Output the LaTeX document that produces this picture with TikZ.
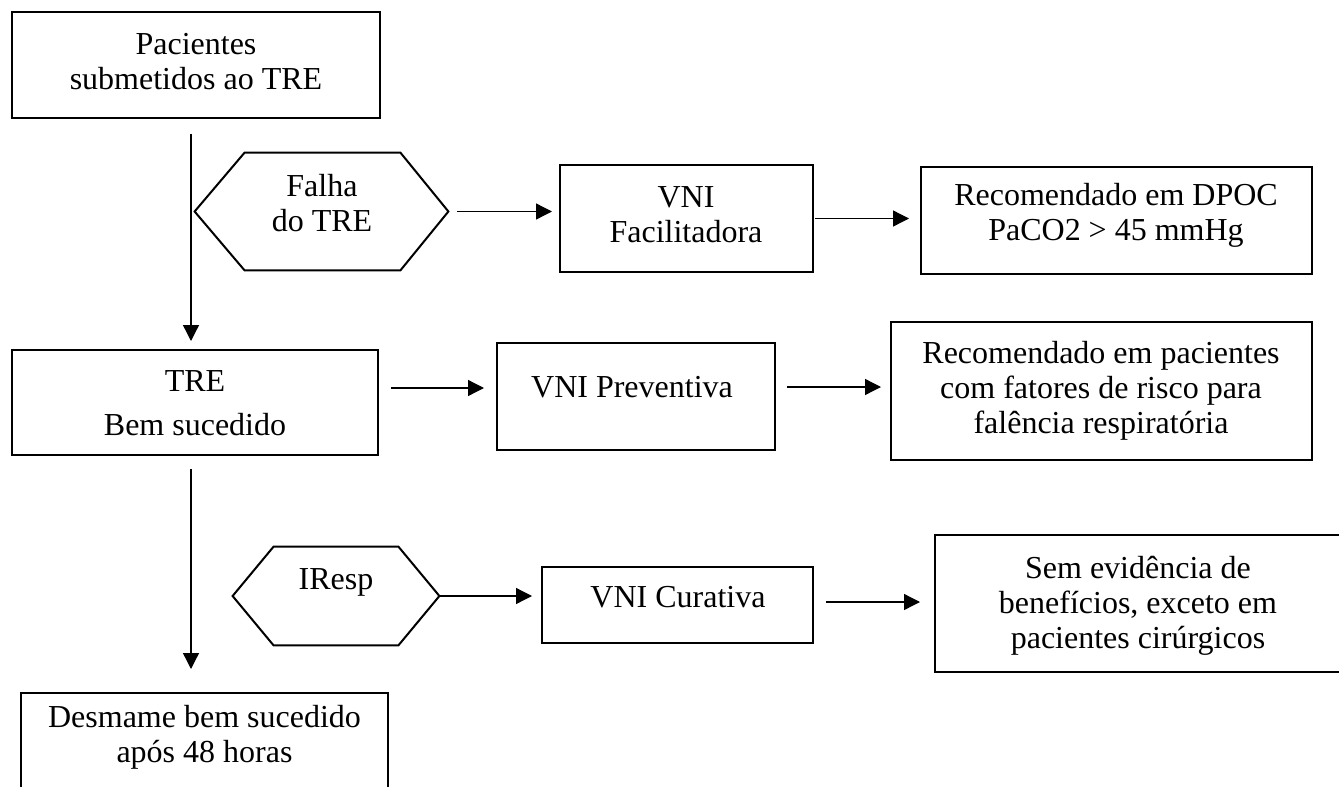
\documentclass[tikz,border=0pt]{standalone}
\usepackage{fontspec}
\setmainfont{Liberation Serif}
\usetikzlibrary{arrows.meta}
\begin{document}
\begin{tikzpicture}[x=0.5pt,y=-0.5pt,
  box/.style={draw=black,line width=1pt,rectangle,inner sep=0pt},
  ghost/.style={draw=none,rectangle,inner sep=0pt},
  hex/.style={draw=black,line width=1pt,line join=miter},
  txt/.style={align=center,inner sep=0pt,font=\fontsize{16pt}{17.5pt}\selectfont},
  wtxt/.style={align=center,inner sep=0pt,font=\fontsize{16pt}{22pt}\selectfont},
  arr/.style={line width=0.65pt,-{Triangle[length=8pt,width=8pt]}}]
\useasboundingbox (0,0) rectangle (1339,787);

% boxes
\node[box,minimum width=184pt,minimum height=53pt] (p1) at (196,65) {};
\node[txt] (t1) at (196,62) {Pacientes\\submetidos ao TRE};

\node[ghost,minimum width=126.5pt,minimum height=58.5pt] (falha) at (321.5,211.5) {};
\draw[hex] (falha.west) -- ([xshift=25pt]falha.north west) -- ([xshift=-24pt]falha.north east)
  -- (falha.east) -- ([xshift=-24pt]falha.south east) -- ([xshift=25pt]falha.south west) -- cycle;
\node[txt] (t2) at (322,203) {Falha\\do TRE};

\node[box,minimum width=126.5pt,minimum height=53.5pt] (vnifac) at (686.5,218.5) {};
\node[txt] (t3) at (686,215) {VNI\\Facilitadora};

\node[box,minimum width=195.5pt,minimum height=53.5pt] (dpoc) at (1116.5,220.5) {};
\node[txt] (t4) at (1116,215) {Recomendado em DPOC\\PaCO2 > 45 mmHg};

\node[box,minimum width=183pt,minimum height=52.5pt] (tre) at (195,402.5) {};
\node[wtxt] (t5) at (195,403) {TRE\\Bem sucedido};

\node[box,minimum width=139pt,minimum height=53.5pt] (vniprev) at (636,396.5) {};
\node[txt] (t6) at (632,387) {VNI Preventiva};

\node[box,minimum width=210.5pt,minimum height=69pt] (recpac) at (1101.5,391) {};
\node[txt] (t7) at (1101,391) {Recomendado em pacientes\\com fatores de risco para\\falência respiratória};

\node[ghost,minimum width=103pt,minimum height=49pt] (iresp) at (336,596) {};
\draw[hex] (iresp.west) -- ([xshift=20.5pt]iresp.north west) -- ([xshift=-20.5pt]iresp.north east)
  -- (iresp.east) -- ([xshift=-20.5pt]iresp.south east) -- ([xshift=20.5pt]iresp.south west) -- cycle;
\node[txt] (t8) at (336,582) {IResp};

\node[box,minimum width=135.5pt,minimum height=38pt] (vnicur) at (677.5,605) {};
\node[txt] (t9) at (678,597) {VNI Curativa};

\node[box,minimum width=203pt,minimum height=68.5pt] (sem) at (1138,603.5) {};
\node[txt] (t10) at (1138,606) {Sem evidência de\\benefícios, exceto em\\pacientes cirúrgicos};

\node[box,minimum width=183.5pt,minimum height=53.5pt] (desm) at (204.5,746.5) {};
\node[txt] (t11) at (204.5,737) {Desmame bem sucedido\\após 48 horas};

% connectors
\draw[arr] ([xshift=-2.5pt,yshift=-7.5pt]p1.south) -- ([xshift=-2pt,yshift=4pt]tre.north);
\draw[arr] ([xshift=-2pt,yshift=-6.5pt]tre.south) -- ([xshift=-6.75pt,yshift=11.5pt]desm.north);
\draw[arr,shorten <=4.5pt,shorten >=3.5pt] (falha.east) -- (falha.east -| vnifac.west);
\draw[arr,shorten <=0.5pt,shorten >=5.5pt] (vnifac.east) -- (vnifac.east -| dpoc.west);
\draw[arr,shorten <=6pt,shorten >=6pt] ([yshift=7.25pt]tre.east) -- ([yshift=7.25pt]tre.east -| vniprev.west);
\draw[arr,shorten <=5.5pt,shorten >=4.5pt] ([yshift=4.75pt]vniprev.east) -- ([yshift=4.75pt]vniprev.east -| recpac.west);
\draw[arr,shorten >=4.5pt] (iresp.east) -- (iresp.east -| vnicur.west);
\draw[arr,shorten <=6pt,shorten >=7pt] ([yshift=1.5pt]vnicur.east) -- ([yshift=1.5pt]vnicur.east -| sem.west);
\end{tikzpicture}
\end{document}
